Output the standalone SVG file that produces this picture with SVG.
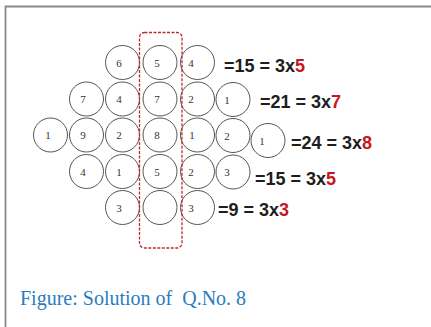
<svg xmlns="http://www.w3.org/2000/svg" width="431" height="327" viewBox="0 0 431 327">
<style>
.c{fill:#fff;stroke:#555;stroke-width:1}
.n{font-family:"Liberation Serif",serif;font-size:11px;fill:#333;text-anchor:middle}
.eq{font-family:"Liberation Sans",Arial,sans-serif;font-weight:bold;font-size:18px;fill:#1e1e1e}
.r{fill:#c8161d}
.cap{font-family:"Liberation Serif","Times New Roman",serif;font-size:20px;fill:#2a7cc0}
</style>
<rect width="431" height="327" fill="#fff"/>
<g id="frame"><path d="M5.5,327 V6.5 H431" fill="none" stroke="#8a8a8a" stroke-width="1.8"/></g>
<g id="circles">
<g id="r1c2"><circle class="c" cx="122.5" cy="62.5" r="17"/><text class="n" x="119" y="66.5">6</text></g>
<g id="r1c3"><circle class="c" cx="160" cy="62.5" r="17"/><text class="n" x="157" y="66.5">5</text></g>
<g id="r1c4"><circle class="c" cx="197.5" cy="62.5" r="17"/><text class="n" x="191" y="66.5">4</text></g>
<g id="r2c1"><circle class="c" cx="86.5" cy="99" r="17"/><text class="n" x="83" y="103">7</text></g>
<g id="r2c2"><circle class="c" cx="122.5" cy="99" r="17"/><text class="n" x="119" y="103">4</text></g>
<g id="r2c3"><circle class="c" cx="160" cy="99" r="17"/><text class="n" x="157" y="103">7</text></g>
<g id="r2c4"><circle class="c" cx="197.5" cy="99" r="17"/><text class="n" x="191" y="103">2</text></g>
<g id="r2c5"><circle class="c" cx="233" cy="99.5" r="17"/><text class="n" x="227" y="103.5">1</text></g>
<g id="r3c0"><circle class="c" cx="50.5" cy="135" r="17"/><text class="n" x="48" y="139">1</text></g>
<g id="r3c1"><circle class="c" cx="86.5" cy="135" r="17"/><text class="n" x="83" y="139">9</text></g>
<g id="r3c2"><circle class="c" cx="122.5" cy="135" r="17"/><text class="n" x="119" y="139">2</text></g>
<g id="r3c3"><circle class="c" cx="160" cy="135" r="17"/><text class="n" x="157" y="139">8</text></g>
<g id="r3c4"><circle class="c" cx="197.5" cy="135" r="17"/><text class="n" x="192" y="139">1</text></g>
<g id="r3c5"><circle class="c" cx="233" cy="135.5" r="17"/><text class="n" x="227" y="139.5">2</text></g>
<g id="r3c6"><circle class="c" cx="268" cy="140.5" r="17"/><text class="n" x="262" y="144.5">1</text></g>
<g id="r4c1"><circle class="c" cx="86.5" cy="171.5" r="17"/><text class="n" x="83" y="175.5">4</text></g>
<g id="r4c2"><circle class="c" cx="122.5" cy="171.5" r="17"/><text class="n" x="119" y="175.5">1</text></g>
<g id="r4c3"><circle class="c" cx="160" cy="171.5" r="17"/><text class="n" x="157" y="175.5">5</text></g>
<g id="r4c4"><circle class="c" cx="197.5" cy="171.5" r="17"/><text class="n" x="191" y="175.5">2</text></g>
<g id="r4c5"><circle class="c" cx="233" cy="172" r="17"/><text class="n" x="227" y="176">3</text></g>
<g id="r5c2"><circle class="c" cx="122.5" cy="207.5" r="17"/><text class="n" x="119" y="211.5">3</text></g>
<g id="r5c3"><circle class="c" cx="160" cy="207.5" r="17"/></g>
<g id="r5c4"><circle class="c" cx="197.5" cy="207.5" r="17"/><text class="n" x="191" y="211.5">3</text></g>
</g>
<g id="box"><rect x="139.5" y="32.5" width="42.5" height="215.5" rx="5" fill="none" stroke="#c0282e" stroke-width="1.3" stroke-dasharray="3,1.5"/></g>
<g id="equations">
<text class="eq" x="224" y="72">=15 = 3x<tspan class="r">5</tspan></text>
<text class="eq" x="260" y="107.5">=21 = 3x<tspan class="r">7</tspan></text>
<text class="eq" x="291" y="148.5">=24 = 3x<tspan class="r">8</tspan></text>
<text class="eq" x="255" y="185">=15 = 3x<tspan class="r">5</tspan></text>
<text class="eq" x="218" y="216">=9 = 3x<tspan class="r">3</tspan></text>
</g>
<text class="cap" x="20" y="305" xml:space="preserve">Figure: Solution of  Q.No. 8</text>
</svg>
